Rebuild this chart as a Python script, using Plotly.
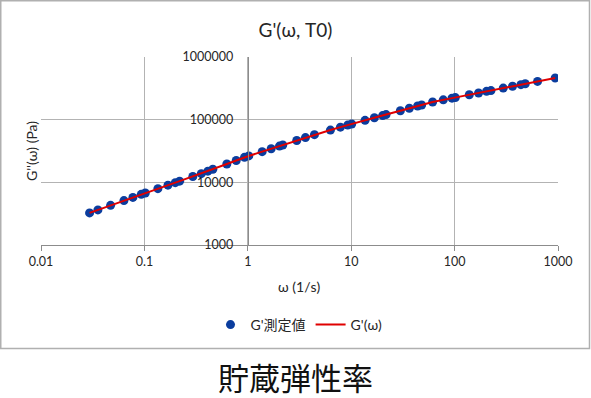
import plotly.graph_objects as go

# ---- data ----
omega = [0.0295, 0.0355, 0.0471, 0.0634, 0.0774, 0.0933, 0.102, 0.135, 0.169, 0.199,
         0.219, 0.294, 0.355, 0.411, 0.459, 0.627, 0.773, 0.929, 1.022, 1.377,
         1.683, 2.025, 2.179, 2.975, 3.610, 4.410, 6.295, 7.864, 9.251, 10.11,
         13.62, 16.76, 20.16, 21.74, 29.88, 36.50, 43.90, 47.99, 61.30, 77.76,
         94.38, 101.6, 138.7, 170.6, 203.8, 224.7, 295.4, 363.4, 437.9, 482.1,
         633.9, 939.6]
g_measured = [3250, 3630, 4290, 5110, 5740, 6440, 6770, 7930, 9020, 9890,
              10450, 12380, 13760, 15090, 16180, 19590, 22350, 25040, 26370, 30870,
              34350, 37920, 39490, 46590, 51820, 57660, 68260, 75920, 82000, 85390,
              97450, 107230, 116270, 120600, 138700, 151970, 165350, 171520, 191600, 206960,
              220290, 225200, 249540, 266600, 282800, 291200, 319150, 340950, 361600, 373800,
              408100, 462700]
g_model = g_measured

x_tickvals = [0.01, 0.1, 1, 10, 100, 1000]
x_ticktext = ["0.01", "0.1", "1", "10", "100", "1000"]
y_tickvals = [1000, 10000, 100000, 1000000]
y_ticktext = ["1000", "10000", "100000", "1000000"]

title_text = "G'(ω, T0)"
x_title = "ω (1/s)"
y_title = "G''(ω) (Pa)"
caption = "貯蔵弾性率"
name_meas = "G'測定値"
name_model = "G'(ω)"

# ---- layout geometry ----
W, H = 591, 398
ML, MR, MT, MB = 41, 33, 57, 153
PW, PH = W - ML - MR, H - MT - MB


def px_x(p):
    return (p - ML) / PW


def px_y(p):
    return (H - MB - p) / PH


FONT = "Lato, 'Noto Sans CJK JP', sans-serif"
TXT = "#262626"

fig = go.Figure()
fig.add_trace(go.Scatter(
    x=omega, y=g_measured, mode="markers", name=name_meas,
    marker=dict(color="#0b3d9e", size=9, line=dict(width=0)),
))
fig.add_trace(go.Scatter(
    x=omega, y=g_model, mode="lines", name=name_model,
    line=dict(color="#e00000", width=2),
))

fig.update_layout(
    width=W, height=H,
    margin=dict(l=ML, r=MR, t=MT, b=MB, autoexpand=False),
    paper_bgcolor="white", plot_bgcolor="white",
    font=dict(family=FONT, size=12, color=TXT),
    title=dict(text=title_text, x=0.5, xref="container", xanchor="center",
               y=1 - 30 / H, yref="container", yanchor="middle",
               font=dict(size=19, color=TXT, family=FONT)),
    showlegend=True,
    legend=dict(orientation="h", x=px_x(299), xanchor="center",
                y=px_y(325), yanchor="middle", font=dict(size=14, color=TXT),
                bgcolor="rgba(0,0,0,0)", itemwidth=30),
    xaxis=dict(type="log", range=[-2, 3], tickvals=x_tickvals, ticktext=x_ticktext,
               showgrid=True, gridcolor="#b3b3b3", gridwidth=1,
               showline=True, linecolor="#8c8c8c", linewidth=1,
               ticks="outside", ticklen=5, tickcolor="#8c8c8c",
               tickfont=dict(size=12.5, color=TXT), mirror=False, zeroline=False),
    yaxis=dict(type="log", range=[3, 6], tickvals=y_tickvals, ticktext=y_ticktext,
               anchor="free", position=0.4,
               showgrid=True, gridcolor="#b3b3b3", gridwidth=1,
               showline=True, linecolor="#8c8c8c", linewidth=1,
               ticks="", ticklabelstandoff=12,
               tickfont=dict(size=12.5, color=TXT), zeroline=False),
    annotations=[
        dict(text=x_title, xref="paper", yref="paper", x=px_x(299), y=px_y(286),
             xanchor="center", yanchor="middle", showarrow=False,
             font=dict(size=14, color=TXT)),
        dict(text=y_title, xref="paper", yref="paper", x=px_x(31), y=px_y(151),
             xanchor="center", yanchor="middle", textangle=-90, showarrow=False,
             font=dict(size=14, color=TXT)),
        dict(text=caption, xref="paper", yref="paper", x=px_x(295.5), y=px_y(376),
             xanchor="center", yanchor="middle", showarrow=False, borderpad=0,
             font=dict(size=31, color="#111111", family="'Noto Sans CJK JP', sans-serif")),
    ],
    shapes=[
        dict(type="rect", xref="paper", yref="paper",
             x0=px_x(0.75), x1=px_x(589.5), y0=px_y(348.5), y1=px_y(0.75),
             line=dict(color="#b0b0b0", width=1.5), fillcolor="rgba(0,0,0,0)",
             layer="below"),
    ],
)

fig.write_html("out.html", config={"displayModeBar": False},
               post_script="document.body.style.margin='0';")
